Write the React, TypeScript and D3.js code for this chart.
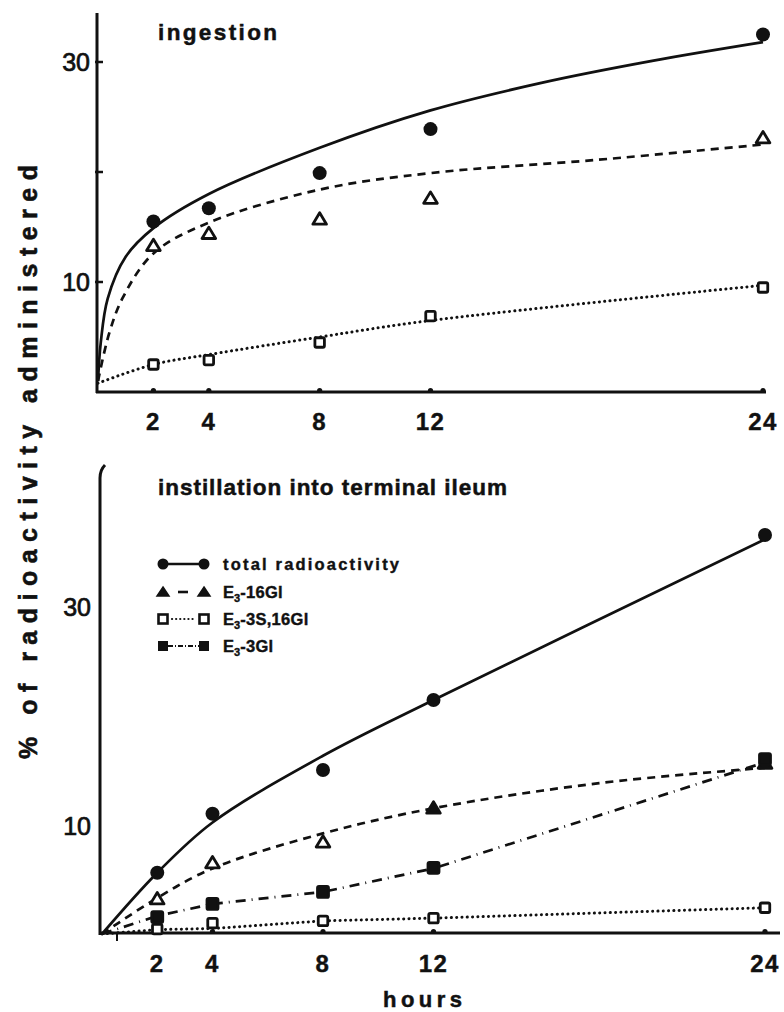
import React from "react";
import * as d3 from "d3";

// ---------- data ----------
const HOURS = [2, 4, 8, 12, 24];
const X_TICKS = [2, 4, 8, 12, 24];
const Y_TICK_LABELS = [10, 30];
const Y_TICKS_TOP = [10, 20, 30];

// Top panel: ingestion
const TOP_TOTAL = [15.5, 16.7, 19.9, 23.9, 32.5];
const TOP_E3_16GL = [13.3, 14.4, 15.7, 17.6, 23.1];
const TOP_E3_3S16GL = [2.5, 2.9, 4.5, 6.9, 9.5];

// Top panel fitted curves
const TOP_FIT_TOTAL_H = [0, 0.1, 0.35, 1, 2, 4, 8, 12, 16, 20, 24];
const TOP_FIT_TOTAL_V = [1, 4.5, 8.5, 12.3, 14.9, 18.0, 22.2, 25.6, 28.1, 30.1, 31.8];
const TOP_FIT_16GL_H = [0, 0.4, 0.9, 2, 4, 8, 12, 18, 24];
const TOP_FIT_16GL_V = [1, 5.3, 8.6, 12.6, 15.4, 18.4, 19.9, 21.1, 22.5];
const TOP_FIT_3S16GL_H = [0, 2, 4, 8, 12, 24];
const TOP_FIT_3S16GL_V = [0.8, 2.5, 3.4, 5.0, 6.5, 9.7];

// Bottom panel: instillation into terminal ileum
const BOT_TOTAL = [5.6, 11.0, 15.0, 21.4, 36.5];
const BOT_E3_16GL = [3.2, 6.5, 8.4, 11.5, 15.6];
const BOT_E3_16GL_FILLED = [false, false, false, true, true];
const BOT_E3_3S16GL = [0.45, 1.0, 1.2, 1.45, 2.4];
const BOT_E3_3GL = [1.55, 2.75, 3.85, 6.05, 16.0];

// Bottom panel fitted curves
const BOT_FIT_TOTAL_H = [0, 2, 4, 8, 12, 24];
const BOT_FIT_TOTAL_V = [0, 5.6, 10.2, 16.3, 21.4, 36.1];
const BOT_FIT_16GL_H = [0, 2, 4, 8, 12, 18, 24];
const BOT_FIT_16GL_V = [0, 3.3, 6.0, 9.2, 11.5, 13.8, 15.2];
const BOT_FIT_3GL_H = [0, 2, 4, 8, 12, 24];
const BOT_FIT_3GL_V = [0, 1.65, 2.75, 3.85, 6.0, 15.7];
const BOT_FIT_3S16GL_H = [0, 2, 4, 8, 12, 24];
const BOT_FIT_3S16GL_V = [0, 0.4, 0.5, 1.2, 1.45, 2.4];

const LEGEND = ["total radioactivity", "E3-16Gl", "E3-3S,16Gl", "E3-3Gl"];

// ---------- styles ----------
const INK = "#111";
const FONT = "'Liberation Sans', Arial, sans-serif";
const SOLID = undefined;
const DASH = "8 6";
const DOT = "0.1 5.2";
const DASHDOT = "10 6 1 6";
const SMOOTH = d3.curveCatmullRom.alpha(0.5);

type Scale = d3.ScaleLinear<number, number>;

function Curve({ hs, vs, x, y, dash, curve }: { hs: number[]; vs: number[]; x: Scale; y: Scale; dash?: string; curve?: any }) {
  const line = d3
    .line<number>()
    .x((_, i) => x(hs[i]))
    .y((v) => y(v))
    .curve(curve || SMOOTH);
  const isDot = dash === DOT;
  return (
    <path
      d={line(vs) || ""}
      fill="none"
      stroke={INK}
      strokeWidth={isDot ? 3 : 2.7}
      strokeDasharray={dash}
      strokeLinecap={isDot ? "round" : "butt"}
    />
  );
}

function Circle({ cx, cy }: { cx: number; cy: number }) {
  return <circle cx={cx} cy={cy} r={7} fill={INK} />;
}
function Tri({ cx, cy, filled }: { cx: number; cy: number; filled?: boolean }) {
  const s = 6.5;
  const p = `M${cx},${cy - s}L${cx + s * 1.05},${cy + s * 0.75}L${cx - s * 1.05},${cy + s * 0.75}Z`;
  return <path d={p} fill={filled ? INK : "#fff"} stroke={INK} strokeWidth={2.8} strokeLinejoin="round" />;
}
function Sq({ cx, cy, filled }: { cx: number; cy: number; filled?: boolean }) {
  const s = filled ? 11 : 9.5;
  return (
    <rect
      x={cx - s / 2}
      y={cy - s / 2}
      width={s}
      height={s}
      rx={1.5}
      fill={filled ? INK : "#fff"}
      stroke={INK}
      strokeWidth={2.8}
    />
  );
}

function XAxis({ x, y0, xStart, xEnd, labelY }: { x: Scale; y0: number; xStart: number; xEnd: number; labelY: number }) {
  return (
    <g>
      <line x1={xStart} x2={xEnd} y1={y0} y2={y0} stroke={INK} strokeWidth={3} />
      {X_TICKS.map((t) => (
        <g key={t}>
          <circle cx={x(t)} cy={y0 - 1.5} r={2.6} fill={INK} />
          <text
            x={x(t)}
            y={labelY}
            textAnchor="middle"
            dominantBaseline="central"
            fontFamily={FONT}
            fontWeight="bold"
            fontSize={24}
            fill={INK}
            stroke={INK}
            strokeWidth={0.4}
            letterSpacing={1.5}
          >
            {t}
          </text>
        </g>
      ))}
    </g>
  );
}

function SubText({ x, y, label, width }: { x: number; y: number; label: string; width: number }) {
  if (label.startsWith("E3")) {
    const rest = label.slice(2);
    return (
      <text x={x} y={y} fontFamily={FONT} fontWeight="bold" fontSize={16.5} fill={INK} stroke={INK} strokeWidth={0.4}>
        E
        <tspan fontSize={11} dy={4}>
          3
        </tspan>
        <tspan dy={-4} letterSpacing={0.3}>{rest}</tspan>
      </text>
    );
  }
  return (
    <text
      x={x}
      y={y}
      fontFamily={FONT}
      fontWeight="bold"
      fontSize={16.5}
      fill={INK}
      stroke={INK}
      strokeWidth={0.4}
      textLength={width}
      lengthAdjust="spacing"
    >
      {label}
    </text>
  );
}

export default function App() {
  // Top panel scales
  const xT = d3.scaleLinear().domain([0, 24]).range([98, 763]);
  const yT = d3.scaleLinear().domain([0, 30]).range([392, 62]);
  // Bottom panel scales
  const xB = d3.scaleLinear().domain([0, 24]).range([102, 765]);
  const yB = d3.scaleLinear().domain([0, 30]).range([934, 606]);

  const legendY = [564, 592, 619, 646];
  const legendWidths = [176, 75, 100, 65];

  return (
    <svg width={784} height={1012} style={{ position: "absolute", left: 0, top: 0, background: "#fff" }}>
      <rect width={784} height={1012} fill="#fff" />

      {/* Y axis label */}
      <text
        transform="translate(37,462) rotate(-90)"
        textAnchor="middle"
        fontFamily={FONT}
        fontWeight="bold"
        fontSize={25}
        fill={INK}
        stroke={INK}
        strokeWidth={0.6}
        textLength={594}
        lengthAdjust="spacing"
      >
        % of radioactivity administered
      </text>

      {/* ===== Top panel ===== */}
      <line x1={97} x2={97} y1={13} y2={393} stroke={INK} strokeWidth={3} />
      {Y_TICKS_TOP.map((t) => (
        <line key={t} x1={95} x2={103} y1={yT(t)} y2={yT(t)} stroke={INK} strokeWidth={2.5} />
      ))}
      {Y_TICK_LABELS.map((t) => (
        <text
          key={t}
          x={90}
          y={yT(t)}
          textAnchor="end"
          dominantBaseline="central"
          fontFamily={FONT}
          fontSize={25}
          fill={INK}
          stroke={INK}
          strokeWidth={0.7}
        >
          {t}
        </text>
      ))}
      <XAxis x={xT} y0={392} xStart={96} xEnd={766} labelY={421} />
      <text x={158} y={40} fontFamily={FONT} fontWeight="bold" fontSize={22.5} fill={INK} stroke={INK} strokeWidth={0.5} textLength={119} lengthAdjust="spacing">
        ingestion
      </text>

      <Curve hs={TOP_FIT_TOTAL_H} vs={TOP_FIT_TOTAL_V} x={xT} y={yT} dash={SOLID} />
      <Curve hs={TOP_FIT_16GL_H} vs={TOP_FIT_16GL_V} x={xT} y={yT} dash={DASH} />
      <Curve hs={TOP_FIT_3S16GL_H} vs={TOP_FIT_3S16GL_V} x={xT} y={yT} dash={DOT} />

      {HOURS.map((h, i) => (
        <g key={"t" + h}>
          <Circle cx={xT(h)} cy={yT(TOP_TOTAL[i])} />
          <Tri cx={xT(h)} cy={yT(TOP_E3_16GL[i])} />
          <Sq cx={xT(h)} cy={yT(TOP_E3_3S16GL[i])} />
        </g>
      ))}

      {/* ===== Bottom panel ===== */}
      <path d="M100,935 L100,478 Q100,470 105,465" fill="none" stroke={INK} strokeWidth={3} />
      {Y_TICK_LABELS.map((t) => (
        <text
          key={t}
          x={91}
          y={yB(t) + 1}
          textAnchor="end"
          dominantBaseline="central"
          fontFamily={FONT}
          fontSize={25}
          fill={INK}
          stroke={INK}
          strokeWidth={0.7}
        >
          {t}
        </text>
      ))}
      <XAxis x={xB} y0={933} xStart={99} xEnd={780} labelY={963} />
      <line x1={117} x2={117} y1={933} y2={941} stroke={INK} strokeWidth={2} />
      <text x={158} y={495} fontFamily={FONT} fontWeight="bold" fontSize={22.5} fill={INK} stroke={INK} strokeWidth={0.5} textLength={349} lengthAdjust="spacing">
        instillation into terminal ileum
      </text>
      <text x={383} y={1007} fontFamily={FONT} fontWeight="bold" fontSize={22} fill={INK} stroke={INK} strokeWidth={0.5} textLength={79} lengthAdjust="spacing">
        hours
      </text>

      <Curve hs={BOT_FIT_TOTAL_H} vs={BOT_FIT_TOTAL_V} x={xB} y={yB} dash={SOLID} />
      <Curve hs={BOT_FIT_16GL_H} vs={BOT_FIT_16GL_V} x={xB} y={yB} dash={DASH} />
      <Curve hs={BOT_FIT_3GL_H} vs={BOT_FIT_3GL_V} x={xB} y={yB} dash={DASHDOT} curve={d3.curveLinear} />
      <Curve hs={BOT_FIT_3S16GL_H} vs={BOT_FIT_3S16GL_V} x={xB} y={yB} dash={DOT} curve={d3.curveLinear} />

      {HOURS.map((h, i) => (
        <g key={"b" + h}>
          <Sq cx={xB(h)} cy={yB(BOT_E3_3S16GL[i])} />
          <Tri cx={xB(h)} cy={yB(BOT_E3_16GL[i])} filled={BOT_E3_16GL_FILLED[i]} />
          <Sq cx={xB(h)} cy={yB(BOT_E3_3GL[i])} filled />
          <Circle cx={xB(h)} cy={yB(BOT_TOTAL[i])} />
        </g>
      ))}

      {/* Legend */}
      {LEGEND.map((lab, i) => {
        const ly = legendY[i];
        const x1 = 163;
        const x2 = 204;
        return (
          <g key={lab}>
            {i === 0 && (
              <g>
                <line x1={x1} x2={x2} y1={ly} y2={ly} stroke={INK} strokeWidth={2.6} />
                <circle cx={x1} cy={ly} r={5.5} fill={INK} />
                <circle cx={x2} cy={ly} r={5.5} fill={INK} />
              </g>
            )}
            {i === 1 && (
              <g>
                <line x1={178} x2={188} y1={ly} y2={ly} stroke={INK} strokeWidth={2.6} />
                <path d={`M${x1},${ly - 5}L${x1 + 6},${ly + 4}L${x1 - 6},${ly + 4}Z`} fill={INK} stroke={INK} strokeWidth={1.5} />
                <path d={`M${x2},${ly - 5}L${x2 + 6},${ly + 4}L${x2 - 6},${ly + 4}Z`} fill={INK} stroke={INK} strokeWidth={1.5} />
              </g>
            )}
            {i === 2 && (
              <g>
                <line x1={172} x2={195} y1={ly} y2={ly} stroke={INK} strokeWidth={2.2} strokeDasharray="0.1 4" strokeLinecap="round" />
                <rect x={x1 - 4.5} y={ly - 4.5} width={9} height={9} fill="#fff" stroke={INK} strokeWidth={2.6} />
                <rect x={x2 - 4.5} y={ly - 4.5} width={9} height={9} fill="#fff" stroke={INK} strokeWidth={2.6} />
              </g>
            )}
            {i === 3 && (
              <g>
                <line x1={168} x2={200} y1={ly} y2={ly} stroke={INK} strokeWidth={2.2} strokeDasharray="5 2 1 2" />
                <rect x={x1 - 5} y={ly - 5} width={10} height={10} fill={INK} />
                <rect x={x2 - 5} y={ly - 5} width={10} height={10} fill={INK} />
              </g>
            )}
            <SubText x={223} y={ly + 6} label={lab} width={legendWidths[i]} />
          </g>
        );
      })}
    </svg>
  );
}
